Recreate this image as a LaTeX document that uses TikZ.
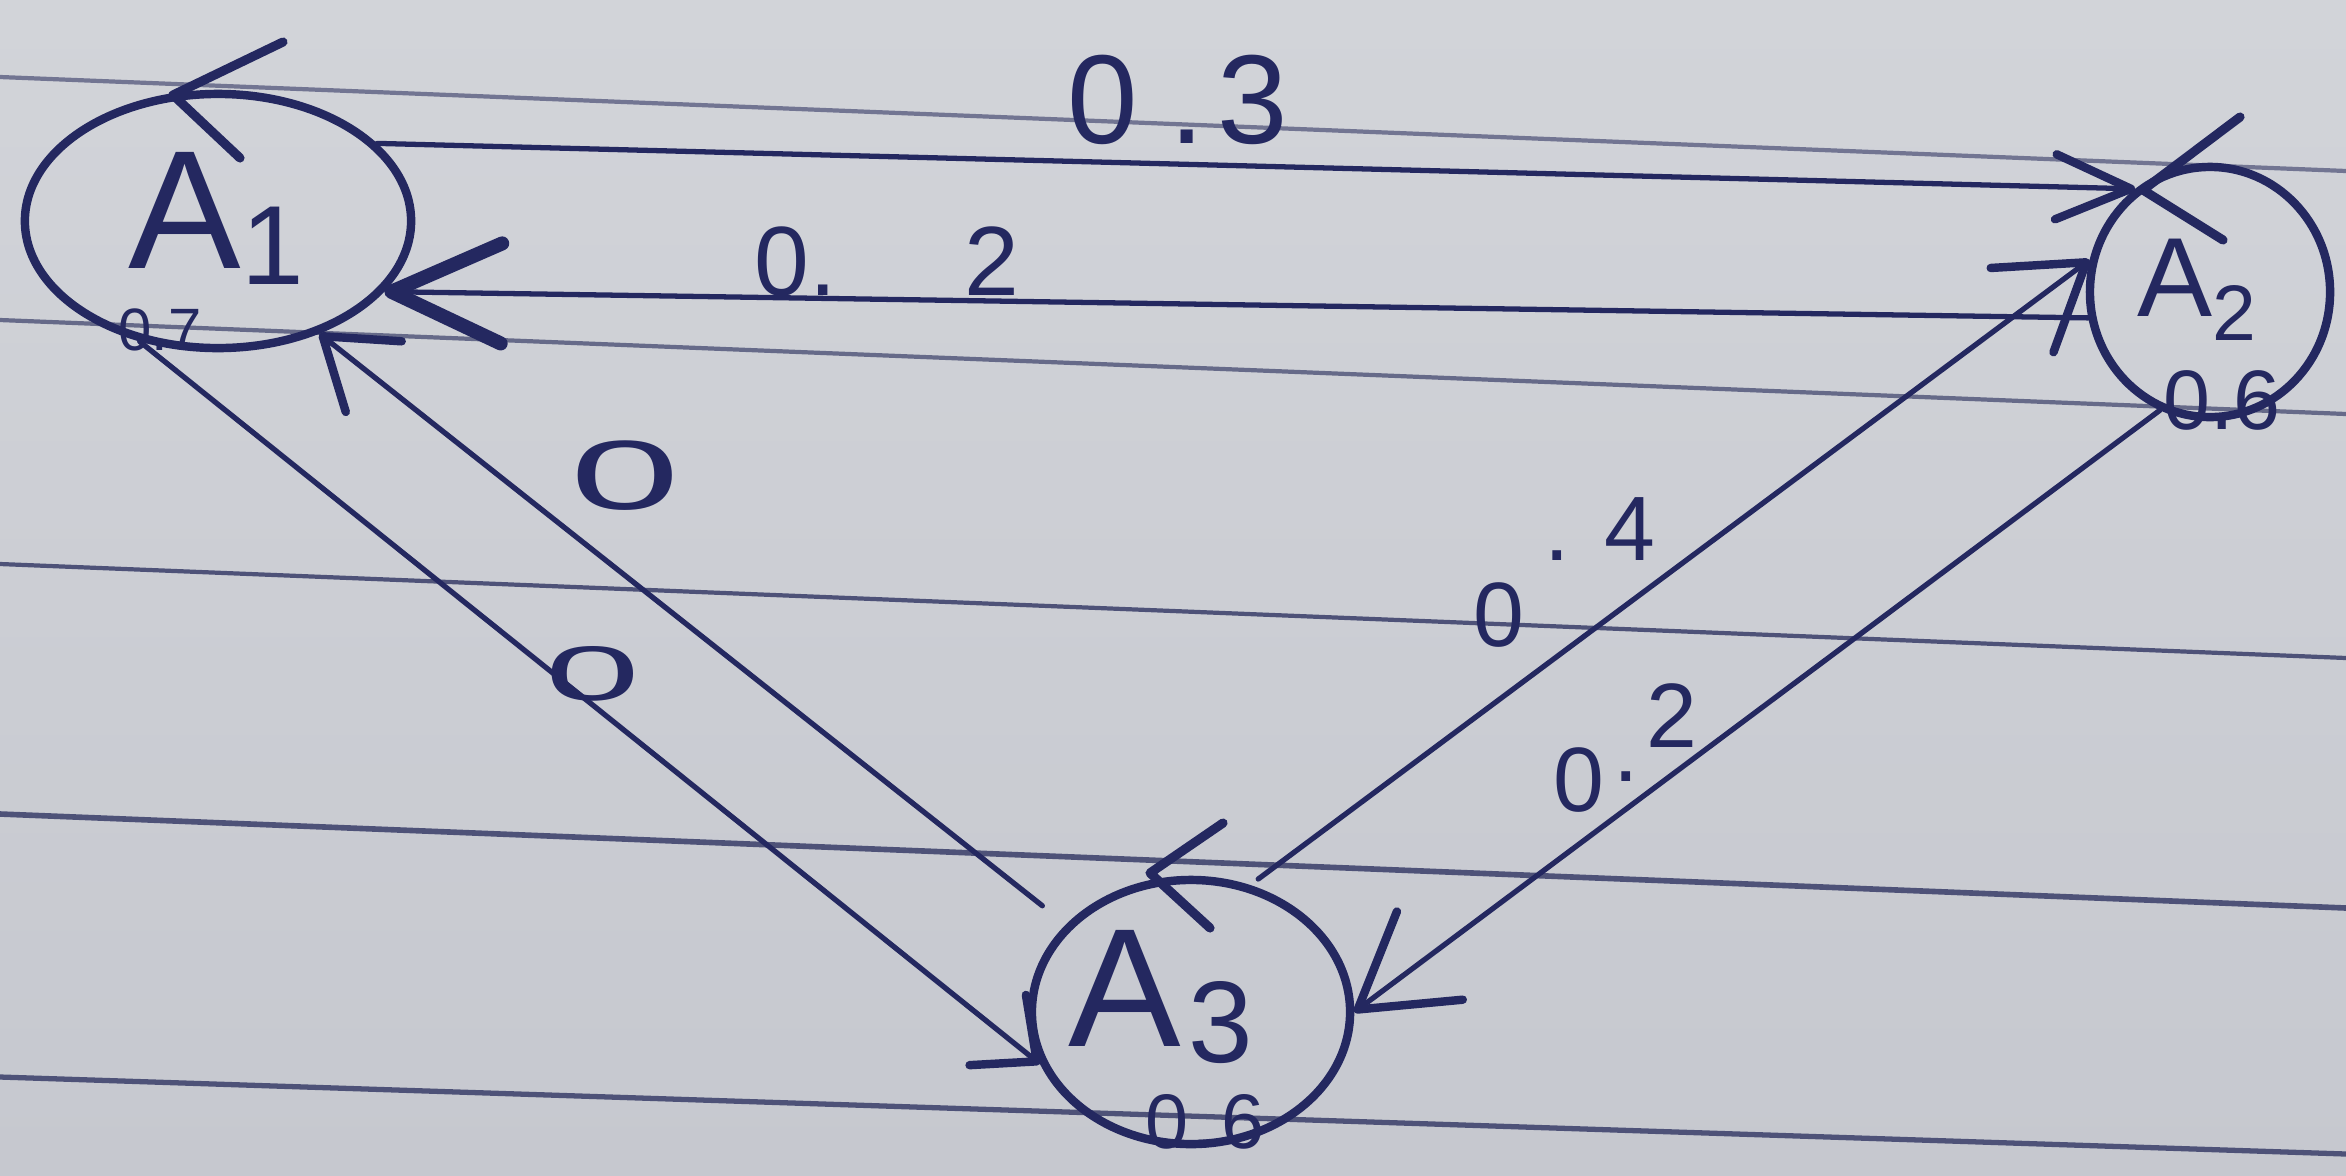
\documentclass[tikz,border=0pt]{standalone}
\usepackage{fontspec}
\setmainfont{Liberation Sans}
\usetikzlibrary{arrows.meta,shapes.geometric}
\definecolor{papertop}{HTML}{D2D4D9}
\definecolor{paperbot}{HTML}{C6C8CF}
\definecolor{ink}{HTML}{242860}
\definecolor{ruling}{HTML}{4E5278}
\begin{document}
\begin{tikzpicture}[x=0.01cm,y=-0.01cm,
  state/.style={draw=ink, line width=2.4pt, ellipse, inner sep=0pt},
  edge/.style={draw=ink, line width=1.5pt, line cap=round},
  loophead/.style={draw=ink, line width=2.6pt, line cap=round, line join=round},
  ruled/.style={draw=ruling, line width=1.2pt},
  lab/.style={text=ink, inner sep=0pt},
  fs/.style={font=\fontsize{#1}{#1}\selectfont}]
% paper
\useasboundingbox (0,0) rectangle (2346,1175);
\shade[top color=papertop, bottom color=paperbot] (0,0) rectangle (2346,1175);
% ruled lines of the paper
\draw[ruled, draw=ruling!70!paperbot] (0,77) -- (2346,171);
\draw[ruled, draw=ruling!80!paperbot] (0,320) -- (2346,414);
\draw[ruled] (0,564) -- (2346,658);
\draw[ruled, line width=1.6pt] (0,814) -- (2346,908);
\draw[ruled, line width=1.5pt] (0,1077) -- (2346,1154);

% states
\node[state, minimum width=3.86cm, minimum height=2.54cm] (a1) at (218,221) {};
\node[state, minimum width=2.40cm, minimum height=2.50cm] (a2) at (2210,292) {};
\node[state, minimum width=3.18cm, minimum height=2.64cm] (a3) at (1191,1012) {};

% state texts
\node[lab, fs=48pt, anchor=base west] (t1) at (128,268)
  {A\raisebox{-0.1em}{\fontsize{32pt}{32pt}\selectfont 1}};
\node[lab, fs=17pt] (p1) at (160,330) {0.7};
\node[lab, fs=32pt, anchor=base west] (t2) at (2137,316) {A\textsubscript{2}};
\node[lab, fs=24pt] (p2) at (2222,400) {0.6};
\node[lab, fs=48pt, anchor=base west] (t3) at (1068,1046)
  {A\hspace{0.04em}\raisebox{-0.1em}{\fontsize{33pt}{33pt}\selectfont 3}};
\node[lab, fs=22pt] (p3) at (1205,1122) {0\hspace{0.05em}.\hspace{0.1em}6};

% self-loop arrowheads on the circles
\draw[loophead] (283,42) -- (173,95) -- (240,158);
\draw[loophead] (2240,117) -- (2143,190) -- (2223,240);
\draw[loophead] (1223,823) -- (1150,873) -- (1210,928);

% transitions
\draw[edge, -{Straight Barb[length=7.5mm,width=6.5mm,line width=2.4pt,round]}] (a1.26) -- (a2.126);
\draw[edge, -{Straight Barb[length=11mm,width=10mm,line width=4pt,round]}] (a2.192) -- (a1.-23);
\draw[edge, -{Straight Barb[length=5mm,width=9mm,line width=2.4pt,round]}] (a1.-123) -- (a3.199);
\draw[edge, shorten <=3mm, -{Straight Barb[length=6.5mm,width=9mm,line width=2.4pt,round]}] (a3.145) -- (a1.-48);
\draw[edge, shorten <=1mm, -{Straight Barb[length=8mm,width=10.5mm,line width=2.4pt,round]}] (a3.65) -- (a2.165);
\draw[edge, -{Straight Barb[length=9mm,width=11mm,line width=2.4pt,round]}] (a2.247) -- (a3.0);

% transition probabilities
\node[lab, fs=36pt] (l13) at (1178,100) {0\hspace{0.25em}.\hspace{0.1em}3};
\node[lab, fs=28pt] (l21) at (887,262) {0.\hspace{1.3em}2};
\node[lab, fs=28pt] (l31) at (625,476) {\scalebox{2}[1]{0}};
\node[lab, fs=22pt] (l13b) at (593,674) {\scalebox{2.2}[1]{0}};
\node[lab, fs=26pt, anchor=base west] (l32) at (1473,646)
  {0\hspace{0.2cm}\raisebox{0.85cm}{.}\hspace{0.34cm}\raisebox{0.85cm}{4}};
\node[lab, fs=26pt, anchor=base west] (l23) at (1553,811)
  {0\hspace{0.085cm}\raisebox{0.3cm}{.}\hspace{0.085cm}\raisebox{0.63cm}{2}};
\end{tikzpicture}
\end{document}
